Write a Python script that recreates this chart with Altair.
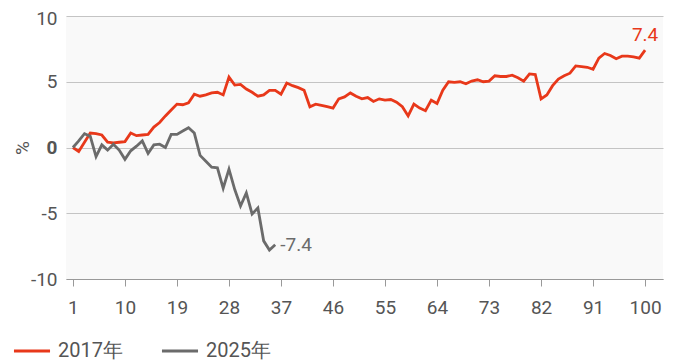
import altair as alt
import pandas as pd

# ---- data ----
series_names = ["2017年", "2025年"]
series_colors = ["#E8381A", "#6B6B6B"]

x_2017 = list(range(1, 101))
y_2017 = [
    0.0, -0.3, 0.4, 1.1, 1.05, 0.95, 0.4, 0.35, 0.4, 0.45,
    1.1, 0.9, 0.95, 1.0, 1.55, 1.9, 2.4, 2.85, 3.3, 3.25,
    3.4, 4.05, 3.9, 4.0, 4.15, 4.2, 4.0, 5.35, 4.75, 4.8,
    4.45, 4.2, 3.9, 4.0, 4.35, 4.35, 4.05, 4.9, 4.7, 4.55,
    4.35, 3.1, 3.3, 3.2, 3.1, 3.0, 3.7, 3.85, 4.15, 3.9,
    3.7, 3.8, 3.5, 3.7, 3.6, 3.65, 3.45, 3.1, 2.4, 3.3,
    3.0, 2.8, 3.6, 3.35, 4.35, 5.0, 4.95, 5.0, 4.85, 5.05,
    5.15, 5.0, 5.05, 5.45, 5.4, 5.4, 5.5, 5.3, 5.05, 5.6,
    5.55, 3.7, 4.0, 4.7, 5.2, 5.45, 5.65, 6.2, 6.15, 6.1,
    5.95, 6.8, 7.15, 7.0, 6.75, 6.95, 6.95, 6.9, 6.8, 7.4,
]

x_2025 = list(range(1, 37))
y_2025 = [
    0.0, 0.5, 1.05, 0.85, -0.7, 0.2, -0.2, 0.25, -0.2, -0.9,
    -0.25, 0.1, 0.5, -0.45, 0.2, 0.25, 0.0, 1.0, 1.0, 1.25,
    1.5, 1.1, -0.6, -1.05, -1.5, -1.55, -3.1, -1.65, -3.2, -4.45,
    -3.45, -5.05, -4.6, -7.1, -7.8, -7.4,
]

end_labels = ["7.4", "-7.4"]
x_ticks = [1, 10, 19, 28, 37, 46, 55, 64, 73, 82, 91, 100]
y_ticks = [-10, -5, 0, 5, 10]

# ---- tables ----
df = pd.concat([
    pd.DataFrame({"x": x_2017, "value": y_2017, "series": series_names[0]}),
    pd.DataFrame({"x": x_2025, "value": y_2025, "series": series_names[1]}),
], ignore_index=True)

ends = pd.DataFrame({
    "x": [x_2017[-1], x_2025[-1]],
    "value": [y_2017[-1], y_2025[-1]],
    "series": series_names,
    "label": end_labels,
})

FONT = "Roboto"
LABEL_COLOR = "#555555"

x_enc = alt.X(
    "x:Q",
    scale=alt.Scale(domain=[-0.2, 103.1], nice=False, zero=False),
    axis=alt.Axis(
        values=x_ticks, title=None, grid=False, tickSize=7, labelPadding=12,
        domainColor="#999999", tickColor="#999999", labelFontSize=19,
        labelColor=LABEL_COLOR, labelFont=FONT,
    ),
)
y_enc = alt.Y(
    "value:Q",
    scale=alt.Scale(domain=[-10, 10], nice=False),
    axis=alt.Axis(
        values=y_ticks, title="%", grid=True, gridColor="#c4c4c4", gridWidth=1.2,
        domain=False, ticks=False, labelPadding=9, labelFontSize=19,
        labelExpr="'' + datum.value",
        labelOffset=alt.ExprRef(expr="datum.value == 10 ? 2 : 0"),
        labelColor=LABEL_COLOR, labelFont=FONT,
        labelFontWeight=alt.ExprRef(expr="datum.value == 0 ? 'bold' : 'normal'"),
        titleFontSize=19, titleFontWeight="normal", titleColor=LABEL_COLOR,
        titleFont=FONT, titleAngle=270, titleX=-44, titleY=131.5,
        titleAlign="center", titleBaseline="middle",
    ),
)
color_scale = alt.Scale(domain=series_names, range=series_colors)

lines = alt.Chart(df).mark_line(strokeWidth=2.8).encode(
    x=x_enc,
    y=y_enc,
    color=alt.Color(
        "series:N", scale=color_scale,
        legend=alt.Legend(
            title=None, orient="none", legendX=-54, legendY=315,
            direction="horizontal", symbolType="stroke", symbolSize=1300,
            symbolStrokeWidth=3, labelFontSize=20, labelColor=LABEL_COLOR,
            labelFont=FONT, columnPadding=32, labelOffset=6,
        ),
    ),
)

lab_2017 = alt.Chart(ends[ends["series"] == series_names[0]]).mark_text(
    align="center", baseline="bottom", dy=-5, fontSize=19, font=FONT,
).encode(
    x="x:Q", y="value:Q", text="label:N",
    color=alt.Color("series:N", scale=color_scale, legend=None),
)

lab_2025 = alt.Chart(ends[ends["series"] == series_names[1]]).mark_text(
    align="left", baseline="middle", dx=5, fontSize=19, font=FONT,
).encode(
    x="x:Q", y="value:Q", text="label:N",
    color=alt.Color("series:N", scale=color_scale, legend=None),
)

chart = alt.layer(lines, lab_2017, lab_2025).properties(
    width=597, height=263,
    autosize=alt.AutoSizeParams(type="none"),
    padding={"left": 58, "top": 8, "right": 8, "bottom": 83},
    background="#ffffff",
).configure_view(fill="#f9f9f9", stroke=None)

chart.save("out.html", embed_options={"renderer": "svg", "actions": False})
